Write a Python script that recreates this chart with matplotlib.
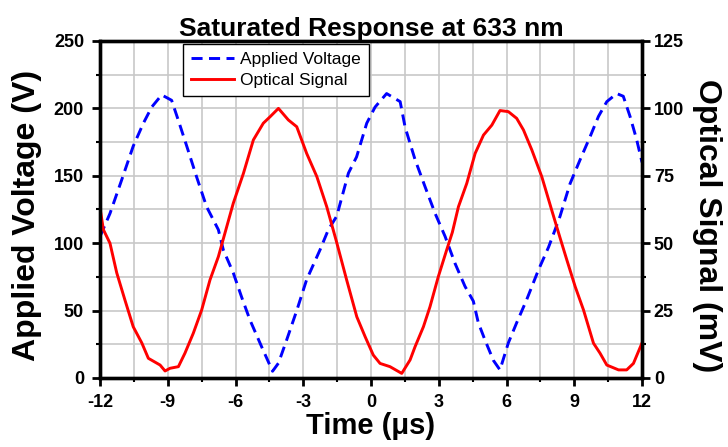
import matplotlib.pyplot as plt
from matplotlib.ticker import MultipleLocator

plt.rcParams['font.family'] = ['Liberation Sans', 'DejaVu Sans']
plt.rcParams['axes.unicode_minus'] = False

# Applied voltage (V), left axis
volt_t = [-12.0, -11.56, -11.04, -10.53, -10.08, -9.71, -9.27, -8.83, -8.53, -8.16,
          -7.72, -7.28, -6.76, -6.54, -6.1, -5.73, -5.36, -4.84, -4.36, -4.1,
          -3.74, -3.29, -2.85, -2.26, -1.89, -1.52, -1.0, -0.64, -0.19, 0.18,
          0.69, 1.29, 1.51, 1.95, 2.39, 2.84, 3.28, 3.72, 4.16, 4.53,
          4.75, 5.05, 5.42, 5.71, 6.08, 6.45, 6.89, 7.41, 7.86, 8.15,
          8.37, 8.81, 9.26, 9.70, 10.07, 10.44, 10.88, 11.17, 11.47, 11.76, 12.0]
volt_v = [105, 122, 147, 172, 189, 201, 210, 206, 191, 172,
          149, 127, 110, 95, 78, 60, 43, 23, 5, 11,
          28, 50, 73, 95, 110, 120, 152, 164, 189, 201,
          211, 205, 186, 162, 142, 122, 105, 85, 68, 57,
          41, 28, 13, 6, 26, 41, 58, 80, 97, 110,
          120, 144, 162, 179, 194, 205, 211, 209, 194, 177, 160]

# Optical signal (mV), right axis
opt_t = [-12.0, -11.85, -11.56, -11.26, -10.9, -10.53, -10.15, -9.86, -9.34, -9.12,
         -8.9, -8.53, -8.24, -7.87, -7.5, -7.13, -6.76, -6.46, -6.1, -5.65,
         -5.21, -4.77, -4.47, -4.1, -3.66, -3.29, -2.85, -2.4, -1.96, -1.55,
         -1.08, -0.63, -0.26, 0.1, 0.4, 0.84, 1.36, 1.73, 1.95, 2.32,
         2.61, 2.98, 3.35, 3.6, 3.87, 4.24, 4.61, 4.98, 5.35, 5.71,
         6.08, 6.45, 6.75, 7.12, 7.56, 8.0, 8.37, 8.67, 9.04, 9.41,
         9.85, 10.14, 10.44, 10.96, 11.32, 11.62, 12.0]
opt_v = [63, 55, 50, 39, 29, 19, 13, 7.3, 4.8, 2.6,
         3.6, 4.2, 9.2, 16.6, 25.2, 36.4, 45, 54, 64.8, 75.9,
         88.3, 94.5, 96.9, 100, 95.7, 93.2, 83.3, 74.7, 63.5, 51.2,
         36.4, 22.7, 15.3, 8.5, 5.4, 4.2, 1.7, 6.7, 11.6, 19,
         26.4, 37.6, 47.5, 54, 63.5, 72.2, 83.3, 90.1, 93.8, 99.2,
         98.8, 96.3, 92, 84.6, 74.7, 62.3, 52, 43.8, 33.9, 25.2,
         12.9, 9.2, 4.8, 3.0, 3.0, 5.4, 13]

x_ticks = [-12, -9, -6, -3, 0, 3, 6, 9, 12]

fig = plt.figure(figsize=(7.28, 4.47), dpi=100)
ax = fig.add_axes([0.1374, 0.1544, 0.7445, 0.7539])
ax2 = ax.twinx()

l1, = ax.plot(volt_t, volt_v, color='#0000ff', lw=2.1, dashes=(3.8, 2.2),
              label='Applied Voltage')
l2, = ax2.plot(opt_t, opt_v, color='#ff0000', lw=2.1, label='Optical Signal')

ax.set_xlim(-12, 12)
ax.set_ylim(0, 250)
ax2.set_ylim(0, 125)
ax.set_xticks(x_ticks)
ax.xaxis.set_minor_locator(MultipleLocator(1.5))
ax.yaxis.set_major_locator(MultipleLocator(50))
ax.yaxis.set_minor_locator(MultipleLocator(25))
ax2.yaxis.set_major_locator(MultipleLocator(25))
ax2.yaxis.set_minor_locator(MultipleLocator(12.5))

ax.grid(True, which='both', color='#c8c8c8', lw=1.2)
ax.set_axisbelow(True)

for a in (ax, ax2):
    for s in a.spines.values():
        s.set_linewidth(2.4)
    a.tick_params(which='major', length=5.5, width=2, direction='out', pad=3)
    a.tick_params(which='minor', length=3, width=1.5, direction='out')
    for lab in a.get_xticklabels() + a.get_yticklabels():
        lab.set_fontweight('bold')
        lab.set_fontsize(13)
ax.tick_params(axis='x', which='both', top=False)
ax.tick_params(axis='x', which='major', pad=6)
ax.tick_params(axis='y', which='major', pad=6)

ax.set_xlabel('Time (μs)', fontsize=21, fontweight='bold', labelpad=1)
ax.set_ylabel('Applied Voltage (V)', fontsize=23, fontweight='bold')
ax.yaxis.set_label_coords(-0.107, 0.481)
ax2.set_ylabel('Optical Signal (mV)', fontsize=23, fontweight='bold',
               rotation=270, va='bottom')
ax2.yaxis.set_label_coords(1.093, 0.451)
ax.set_title('Saturated Response at 633 nm', fontsize=19, fontweight='bold', pad=3)

leg = ax.legend(handles=[l1, l2], loc='upper left', bbox_to_anchor=(0.1526, 0.991),
                fontsize=12.5, frameon=True, fancybox=False, framealpha=1,
                edgecolor='black', borderpad=0.45, labelspacing=0.35,
                handlelength=2.5, handletextpad=0.35, borderaxespad=0)
leg.get_frame().set_linewidth(1.0)

fig.savefig('out.png', dpi=100)
